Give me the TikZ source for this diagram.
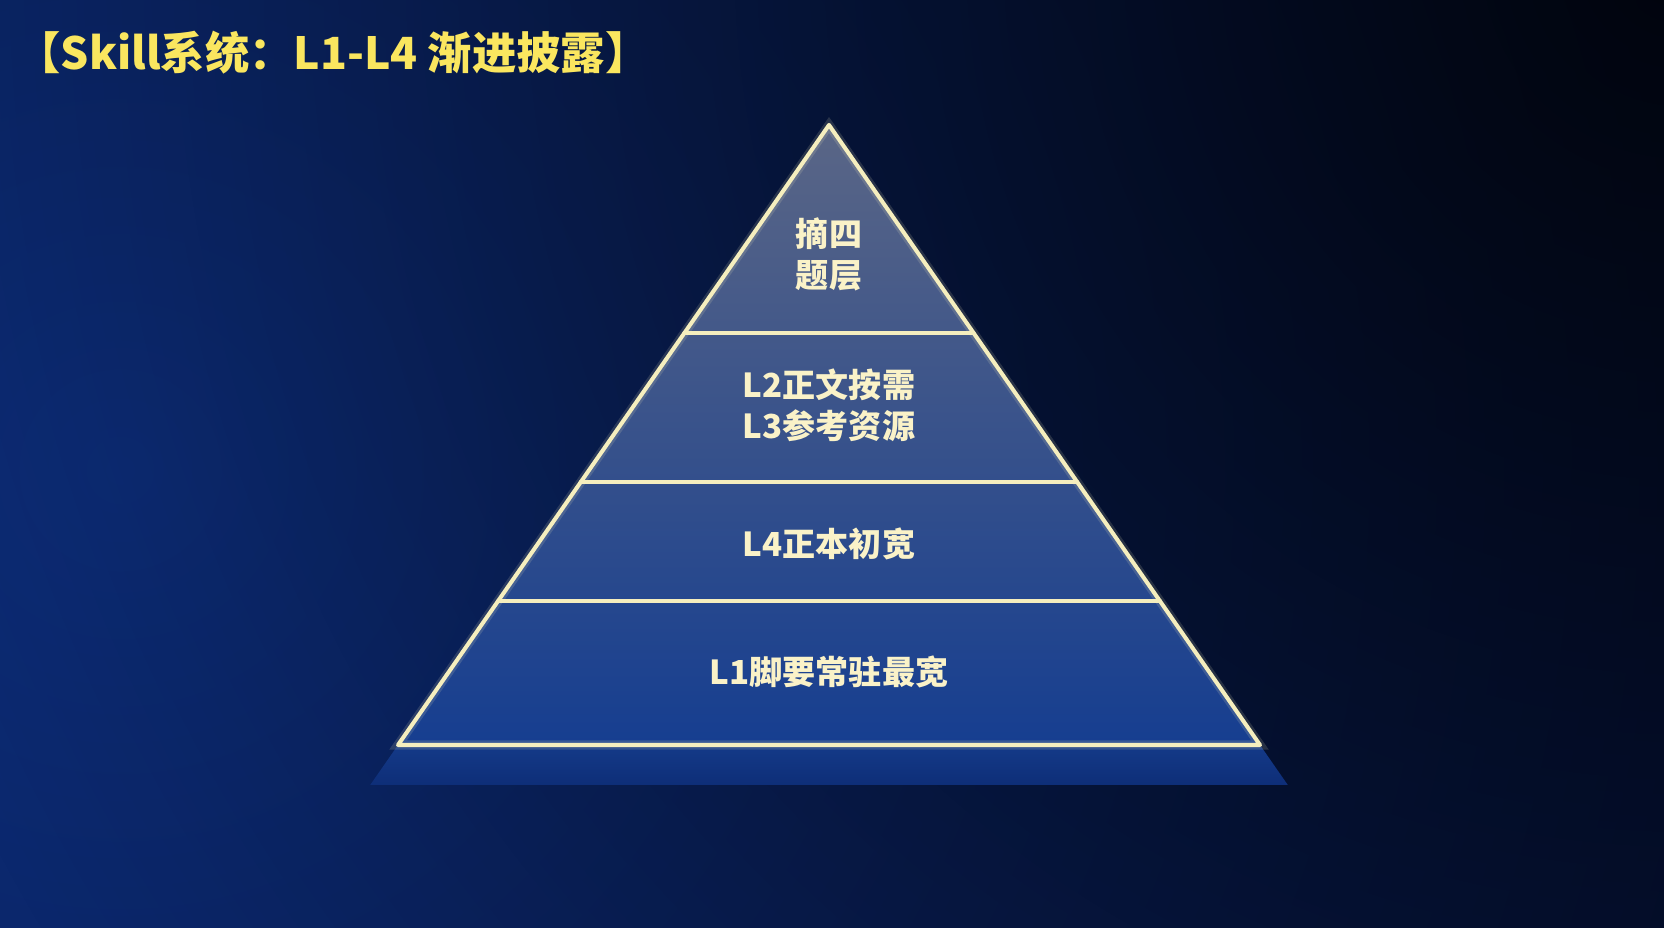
\documentclass[tikz,border=0pt]{standalone}
\usepackage{fontspec}
\setmainfont{Noto Sans CJK SC}
\usetikzlibrary{calc,fadings}
\tikzfading[name=darkspot,inner color=transparent!0,outer color=transparent!100]
\definecolor{bgblue}{RGB}{13,46,124}
\definecolor{bgdark}{RGB}{2,6,30}
\definecolor{edgecream}{RGB}{245,238,190}
\definecolor{titleyellow}{RGB}{250,230,95}
\definecolor{labelcream}{RGB}{250,242,200}
\definecolor{tiptop}{RGB}{90,102,134}
\definecolor{tipbottom}{RGB}{22,62,144}
\definecolor{basetop}{RGB}{20,58,136}
\definecolor{basebottom}{RGB}{14,46,120}

\begin{document}
\begin{tikzpicture}[x=0.01cm,y=-0.01cm,
  edge/.style={draw=edgecream,line width=1.15pt,line cap=round,line join=round},
  layer/.style={text=labelcream,font=\fontsize{9.4}{11.7}\selectfont\bfseries,align=center}]
\useasboundingbox (0,0) rectangle (1664,928);
% background
\begin{scope}
\clip (0,0) rectangle (1664,928);
\shade[inner color=bgblue,outer color=bgdark] (120,470) circle (2700);
\fill[black,opacity=0.8,path fading=darkspot] (1680,-40) circle (1900);
\end{scope}

% pyramid corners
\coordinate (top) at (829,125);
\coordinate (bl) at (398,745);
\coordinate (br) at (1260,745);
\coordinate (a1) at ($(top)!0.3355!(bl)$);
\coordinate (b1) at ($(top)!0.3355!(br)$);
\coordinate (a2) at ($(top)!0.5758!(bl)$);
\coordinate (b2) at ($(top)!0.5758!(br)$);
\coordinate (a3) at ($(top)!0.7677!(bl)$);
\coordinate (b3) at ($(top)!0.7677!(br)$);
\coordinate (a4) at ($(top)!1.0645!(bl)$);
\coordinate (b4) at ($(top)!1.0645!(br)$);

% base band
\shade[top color=basetop,bottom color=basebottom] (bl) -- (br) -- (b4) -- (a4) -- cycle;
% layers
\shade[top color=tiptop,bottom color=tipbottom] (top) -- (br) -- (bl) -- cycle;
\draw[edgecream,opacity=0.15,line width=2.6pt] (bl) -- (top) -- (br) -- cycle;
\draw[edge] (bl) -- (top) -- (br) -- cycle;
\draw[edge] (a1) -- (b1);
\draw[edge] (a2) -- (b2);
\draw[edge] (a3) -- (b3);

\node[anchor=west,text=titleyellow,font=\fontsize{12.6}{15}\selectfont\bfseries] at(4,53)(title) {【Skill系统：L1-L4 渐进披露】};
\node[layer] at(829,254)(1) {摘四\\题层};
\node[layer] at(829,405)(2) {L2正文按需\\L3参考资源};
\node[layer] at(829,544)(3) {L4正本初宽};
\node[layer] at(829,672)(4) {L1脚要常驻最宽};
\end{tikzpicture}
\end{document}
